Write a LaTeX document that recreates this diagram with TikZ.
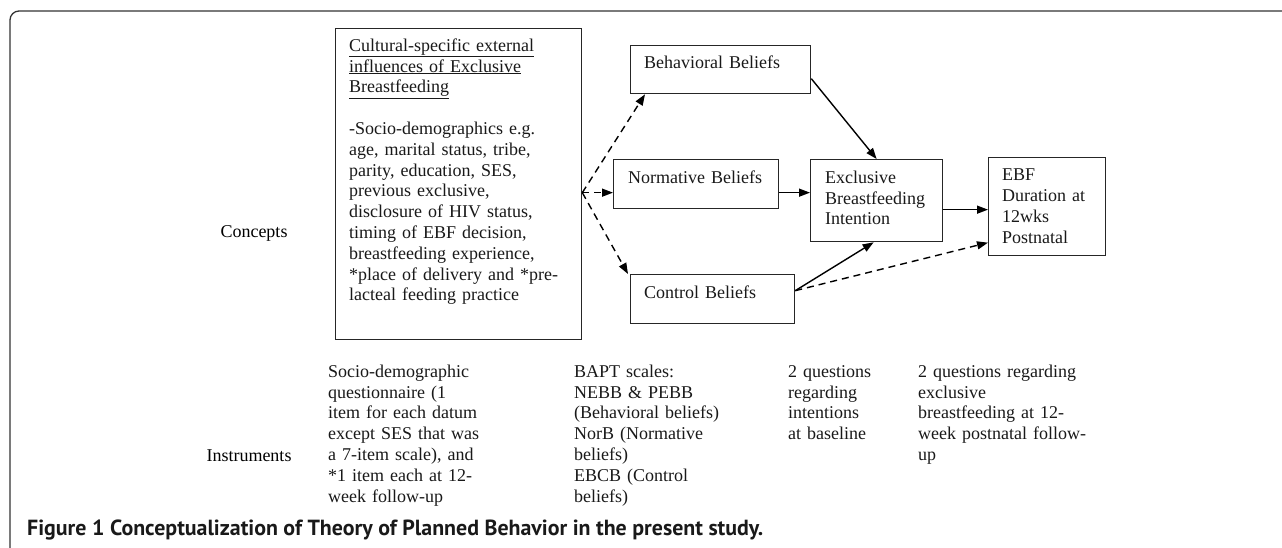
\documentclass[tikz,border=0pt]{standalone}
\usepackage{fontspec}
\setmainfont{Liberation Serif}
\newfontfamily\capfont{PT Sans}
\usetikzlibrary{arrows.meta,calc}
\newcommand{\bodyfont}{\fontsize{18}{20.8}\selectfont}
\tikzset{
  box/.style={draw=black!85, line width=1.3pt},
  txt/.style={anchor=north west, inner sep=0pt, align=left, font=\bodyfont, text=black!90},
  sol/.style={line width=1.4pt, -{Triangle[length=11pt,width=8pt]}},
  dsh/.style={line width=1.4pt, dash pattern=on 7pt off 5pt, -{Triangle[length=11pt,width=8pt]}},
}
\begin{document}
\begin{tikzpicture}[x=1pt,y=-1pt]
\useasboundingbox (0,0) rectangle (1282,547);
% frame
\draw[black!80, line width=1.3pt, rounded corners=9pt] (10,560) -- (10,11) -- (1290,11);
% boxes
\node[box, inner sep=0, minimum width=246pt, minimum height=311pt, anchor=north west] (ext) at (335,28) {};
\node[box, inner sep=0, minimum width=180pt, minimum height=48pt, anchor=north west] (beh) at (630,45) {};
\node[box, inner sep=0, minimum width=165pt, minimum height=49pt, anchor=north west] (nor) at (613,159) {};
\node[box, inner sep=0, minimum width=164pt, minimum height=49pt, anchor=north west] (con) at (630,274) {};
\node[box, inner sep=0, minimum width=132pt, minimum height=82pt, anchor=north west] (int) at (810,159) {};
\node[box, inner sep=0, minimum width=117pt, minimum height=98pt, anchor=north west] (ebf) at (988,157) {};
% texts
\node[txt, text width=230pt] (exttxt) at (349,36.5) {\strut\underline{Cultural-specific external}\\
\underline{influences of Exclusive}\\
\underline{Breastfeeding}\\[20.8pt]
-Socio-demographics e.g.\\
age, marital status, tribe,\\
parity, education, SES,\\
previous exclusive,\\
disclosure of HIV status,\\
timing of EBF decision,\\
breastfeeding experience,\\
{*}place of delivery and *pre-\\
lacteal feeding practice};
\node[txt, text width=160pt] (behtxt) at (644,53.5) {\strut Behavioral Beliefs};
\node[txt, text width=150pt] (nortxt) at (628,168.5) {\strut Normative Beliefs};
\node[txt, text width=150pt] (contxt) at (644,283.5) {\strut Control Beliefs};
\node[txt, text width=125pt] (inttxt) at (825,168.5) {\strut Exclusive\\Breastfeeding\\Intention};
\node[txt, text width=100pt] (ebftxt) at (1002,166) {\strut EBF\\Duration at\\12wks\\Postnatal};
\node[font=\bodyfont, inner sep=0, anchor=base] (concepts) at (254,237) {Concepts};
\node[font=\bodyfont, inner sep=0, anchor=base] (instr) at (249,461) {Instruments};
\node[txt, text width=200pt] (c1) at (328,362.5) {\strut Socio-demographic\\
questionnaire (1\\
item for each datum\\
except SES that was\\
a 7-item scale), and\\
{*}1 item each at 12-\\
week follow-up};
\node[txt, text width=200pt] (c2) at (574,362.5) {\strut BAPT scales:\\
NEBB \& PEBB\\
(Behavioral beliefs)\\
NorB (Normative\\
beliefs)\\
EBCB (Control\\
beliefs)};
\node[txt, text width=120pt] (c3) at (788,362.5) {\strut 2 questions\\
regarding\\
intentions\\
at baseline};
\node[txt, text width=200pt] (c4) at (918,362.5) {\strut 2 questions regarding\\
exclusive\\
breastfeeding at 12-\\
week postnatal follow-\\
up};
\node[inner sep=0, anchor=base west, text=black!90] (cap) at (27,535) {\resizebox{736pt}{!}{\capfont\bfseries\fontsize{20}{22}\selectfont Figure 1 Conceptualization of Theory of Planned Behavior in the present study.}};
% connectors
\coordinate (src) at ($(ext.east)+(0,8.5)$);
\draw[dsh] (src) -- ($(beh.south west)+(15,0)$);
\draw[dsh] (src) -- ($(nor.west)+(0,8.5)$);
\draw[dsh] (src) -- ($(con.north west)+(-2,0)$);
\draw[sol] ($(beh.east)+(0,9)$) -- (int.north);
\draw[sol] ($(nor.east)+(0,8.5)$) -- ($(int.west)+(0,-8)$);
\draw[sol] ($(int.east)+(0,9)$) -- ($(ebf.west)+(0,3)$);
\coordinate (cs) at ($(con.east)+(0,-8.5)$);
\draw[sol] (cs) -- ($(int.south)+(-3,0)$);
\draw[dsh] (cs) -- ($(ebf.west)+(0,36)$);
\end{tikzpicture}
\end{document}
